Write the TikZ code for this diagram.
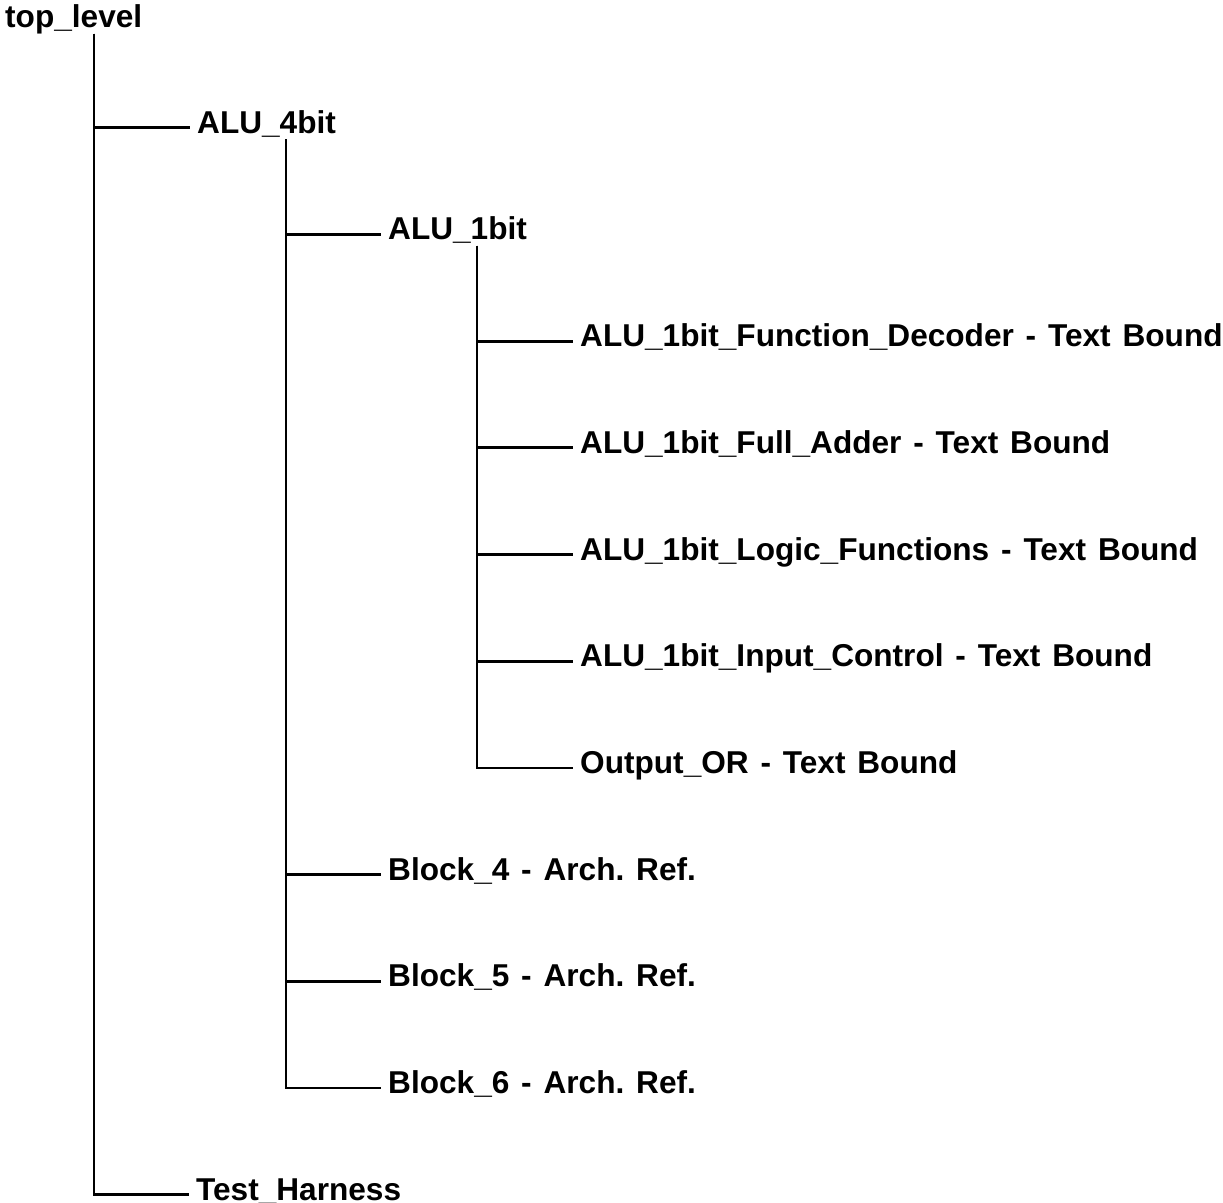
\documentclass[tikz,border=0pt]{standalone}
\usepackage{fontspec}
\setmainfont{Liberation Sans}[WordSpace=1.35]
\frenchspacing
\begin{document}
\begin{tikzpicture}[x=1pt,y=-1pt,
  lbl/.style={anchor=base west, inner sep=0pt, font=\fontsize{31.6}{36}\selectfont\bfseries},
  edge/.style={line width=2.8pt, line join=miter}]
\useasboundingbox (0,0) rectangle (1223,1202);
\node[lbl] (top) at (5,27.5) {top\_level};
\node[lbl] (alu4) at (197,133.2) {ALU\_4bit};
\node[lbl] (alu1) at (388,239.9) {ALU\_1bit};
\node[lbl] (dec) at (580,346.6) {ALU\_1bit\_Function\_Decoder - Text Bound};
\node[lbl] (fa) at (580,453.3) {ALU\_1bit\_Full\_Adder - Text Bound};
\node[lbl] (lf) at (580,560.0) {ALU\_1bit\_Logic\_Functions - Text Bound};
\node[lbl] (ic) at (580,666.7) {ALU\_1bit\_Input\_Control - Text Bound};
\node[lbl] (or) at (580,773.4) {Output\_OR - Text Bound};
\node[lbl] (b4) at (388,880.1) {Block\_4 - Arch. Ref.};
\node[lbl] (b5) at (388,986.8) {Block\_5 - Arch. Ref.};
\node[lbl] (b6) at (388,1093.5) {Block\_6 - Arch. Ref.};
\node[lbl] (th) at (196,1200.2) {Test\_Harness};
\foreach \p/\c in {top/alu4, top/th, alu4/alu1, alu4/b4, alu4/b5, alu4/b6, alu1/dec, alu1/fa, alu1/lf, alu1/ic, alu1/or}
  \draw[edge] ([xshift=89pt,yshift=-6pt]\p.base west) |- ([xshift=-7pt,yshift=5.5pt]\c.base west);
\end{tikzpicture}
\end{document}
